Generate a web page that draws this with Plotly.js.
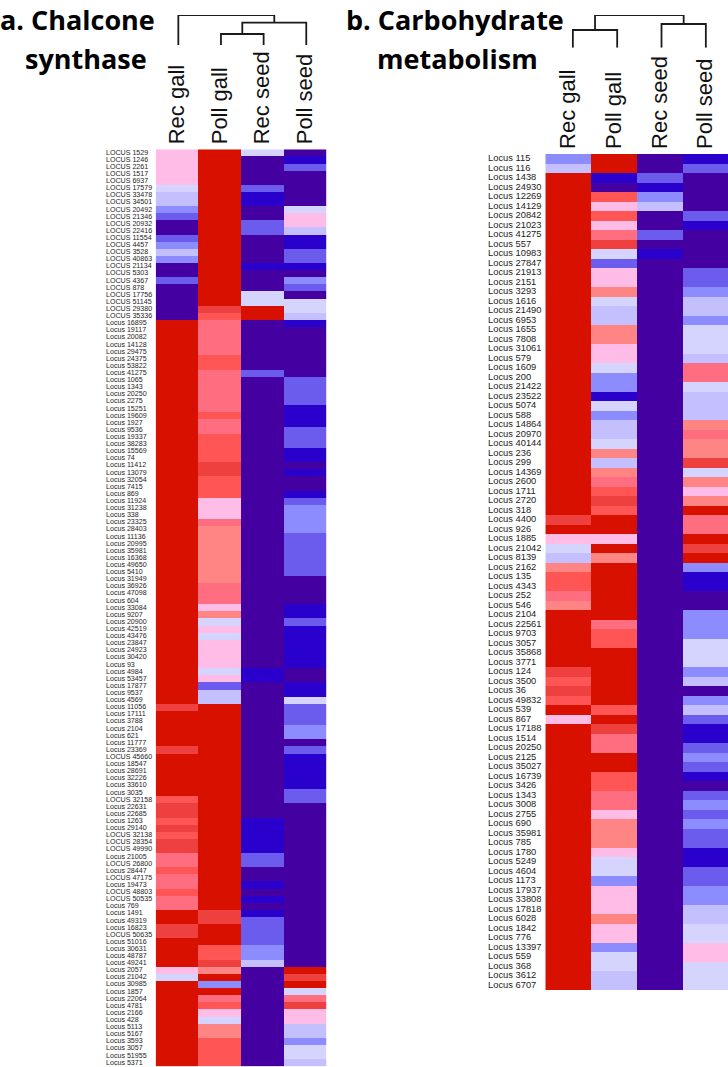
<!DOCTYPE html>
<html><head><meta charset="utf-8">
<script src="https://cdn.plot.ly/plotly-3.0.1.min.js"></script>
<style>html,body{margin:0;padding:0;background:#fff}</style></head>
<body><div id="chart" style="width:728px;height:1067px"></div>
<script>
const columns = ['Rec gall','Poll gall','Rec seed','Poll seed'];
const levelColors = ['#4400a0','#2a00cc','#6c5cee','#8c8cff','#c4bfff','#d4d4ff','#ffbce6','#ff8585','#ff6e80','#ff5555','#ef4040','#d81000'];

const lociA = ['LOCUS 1529','LOCUS 1246','LOCUS 2261','LOCUS 1517','LOCUS 6937','LOCUS 17579','LOCUS 33478','LOCUS 34501','LOCUS 20492','LOCUS 21346','LOCUS 20932','LOCUS 22416','LOCUS 11554','LOCUS 4457','LOCUS 3528','LOCUS 40863','LOCUS 21134','LOCUS 5303','LOCUS 4367','LOCUS 878','LOCUS 17756','LOCUS 51145','LOCUS 29380','LOCUS 35336',
'Locus 16895','Locus 19117','Locus 20082','Locus 14128','Locus 29475','Locus 24375','Locus 53822','Locus 41275','Locus 1065','Locus 1343','Locus 20250','Locus 2275','Locus 15251','Locus 19609','Locus 1927','Locus 9536','Locus 19337','Locus 38283','Locus 15569','Locus 74','Locus 11412','Locus 13079','Locus 32054','Locus 7415','Locus 869','Locus 11924','Locus 31238','Locus 338','Locus 23325','Locus 28403','Locus 11136','Locus 20995','Locus 35981','Locus 16368','Locus 49650','Locus 5410','Locus 31949','Locus 36926','Locus 47098','Locus 604','Locus 33084','Locus 9207','Locus 20900',
'Locus 42519','Locus 43476','Locus 23847','Locus 24923','Locus 30420','Locus 93','Locus 4984','Locus 53457','Locus 17877','Locus 9537','Locus 4569','Locus 11056','Locus 17111','Locus 3788','Locus 2104','Locus 621','Locus 11777','Locus 23369','LOCUS 45660','Locus 18547','Locus 28691','Locus 32226','Locus 33610','Locus 3035','LOCUS 32158','Locus 22631','Locus 22685','Locus 1263','Locus 29140','LOCUS 32138','LOCUS 28354',
'LOCUS 49990','Locus 21005','LOCUS 26800','Locus 28447','LOCUS 47175','Locus 19473','LOCUS 48803','LOCUS 50535','Locus 769','Locus 1491','Locus 49319','Locus 16823','LOCUS 50635','Locus 51016','Locus 30631','Locus 48787','Locus 49241','Locus 2057','Locus 21042','Locus 30985','Locus 1857','Locus 22064','Locus 4781','Locus 2166','Locus 428','Locus 5113','Locus 5167','Locus 3593','Locus 3057','Locus 51955','Locus 5371'];

const recGallA = [
6,6,6,6,6,5,4,4,3,2,
0,0,2,3,4,3,0,0,2,0,
0,0,0,0,11,11,11,11,11,11,
11,11,11,11,11,11,11,11,11,11,
11,11,11,11,11,11,11,11,11,11,
11,11,11,11,11,11,11,11,11,11,
11,11,11,11,11,11,11,11,11,11,
11,11,11,11,11,11,11,11,10,11,
11,11,11,11,10,11,11,11,11,11,
11,9,10,10,9,10,9,10,10,8,
8,9,8,8,9,8,8,11,11,10,
10,11,11,11,11,6,5,11,11,11,
11,11,11,11,11,11,11,11,11];
const pollGallA = [
11,11,11,11,11,11,11,11,11,11,
11,11,11,11,11,11,11,11,11,11,
11,11,10,9,8,8,8,8,8,9,
9,8,8,8,8,8,8,9,8,8,
9,9,9,9,10,10,9,9,9,6,
6,6,8,7,7,7,7,7,7,7,
7,8,8,8,6,7,5,6,5,6,
6,6,6,5,6,2,4,4,11,11,
11,11,11,11,11,11,11,11,11,11,
11,11,11,11,11,11,11,11,11,11,
11,11,11,11,11,11,11,10,10,11,
11,11,9,9,10,7,11,3,11,8,
9,6,5,7,7,9,9,9,9];
const recSeedA = [
5,0,0,0,0,2,1,1,0,0,
2,2,0,0,0,0,1,0,0,0,
5,5,11,11,0,0,0,0,0,0,
0,2,0,0,0,0,0,0,0,0,
0,0,0,0,0,0,0,0,0,0,
0,0,0,0,0,0,0,0,0,0,
0,0,0,0,0,0,0,0,0,0,
0,0,0,1,1,0,0,0,0,0,
0,0,0,0,0,0,0,0,0,0,
0,0,0,0,1,1,1,1,1,2,
2,0,0,1,0,1,0,1,2,2,
2,2,3,3,4,0,0,0,0,0,
0,0,0,0,0,0,0,0,0];
const pollSeedA = [
0,1,2,0,0,0,0,0,5,6,
6,4,1,1,2,2,1,0,3,2,
0,5,5,4,1,0,0,0,0,0,
0,0,2,2,2,2,1,1,1,2,
2,2,1,1,0,1,0,0,1,2,
3,3,3,3,2,2,2,2,2,2,
0,0,0,0,1,1,2,1,1,1,
1,1,1,0,0,1,1,5,2,2,
2,3,3,0,2,1,1,1,1,1,
2,2,0,0,0,0,0,0,0,0,
0,0,0,0,0,0,0,0,0,0,
0,0,0,0,0,11,10,11,5,8,
10,6,6,4,4,3,5,5,4];

const lociB = ['Locus 115','Locus 116','Locus 1438','Locus 24930','Locus 12269','Locus 14129','Locus 20842','Locus 21023','Locus 41275','Locus 557','Locus 10983','Locus 27847','Locus 21913','Locus 2151','Locus 3293','Locus 1616','Locus 21490','Locus 6953','Locus 1655','Locus 7808','Locus 31061','Locus 579','Locus 1609','Locus 200','Locus 21422','Locus 23522','Locus 5074','Locus 588','Locus 14864','Locus 20970','Locus 40144','Locus 236','Locus 299','Locus 14369','Locus 2600','Locus 1711','Locus 2720','Locus 318','Locus 4400','Locus 926','Locus 1885','Locus 21042','Locus 8139','Locus 2162','Locus 135','Locus 4343','Locus 252','Locus 546','Locus 2104','Locus 22561','Locus 9703','Locus 3057','Locus 35868','Locus 3771','Locus 124','Locus 3500','Locus 36','Locus 49832','Locus 539','Locus 867','Locus 17188','Locus 1514','Locus 20250','Locus 2125','Locus 35027','Locus 16739','Locus 3426','Locus 1343','Locus 3008','Locus 2755','Locus 690','Locus 35981','Locus 785','Locus 1780','Locus 5249','Locus 4604','Locus 1173','Locus 17937','Locus 33808','Locus 17818','Locus 6028','Locus 1842','Locus 776','Locus 13397','Locus 559','Locus 368','Locus 3612','Locus 6707'];

const recGallB = [
3,4,11,11,11,11,11,11,11,11,
11,11,11,11,11,11,11,11,11,11,
11,11,11,11,11,11,11,11,11,11,
11,11,11,11,11,11,11,11,10,11,
6,5,4,7,9,9,8,7,11,11,
11,11,11,11,10,9,10,9,11,6,
11,11,11,11,11,11,11,11,11,11,
11,11,11,11,11,11,11,11,11,11,
11,11,11,11,11,11,11,11];
const pollGallB = [
11,11,1,0,9,6,9,6,8,10,
5,2,6,6,7,5,4,4,7,7,
6,6,5,3,3,1,5,3,4,4,
5,7,4,7,8,9,10,9,11,11,
6,11,7,11,11,11,11,11,11,8,
9,9,11,11,11,11,11,11,9,11,
10,8,8,11,11,9,9,8,8,6,
7,7,7,6,5,5,3,6,6,6,
7,6,6,3,5,5,4,4];
const recSeedB = [
0,0,2,1,3,4,0,0,2,0,
1,0,0,0,0,0,0,0,0,0,
0,0,0,0,0,0,0,0,0,0,
0,0,0,0,0,0,0,0,0,0,
0,0,0,0,0,0,0,0,0,0,
0,0,0,0,0,0,0,0,0,0,
0,0,0,0,0,0,0,0,0,0,
0,0,0,0,0,0,0,0,0,0,
0,0,0,0,0,0,0,0];
const pollSeedB = [
1,2,0,0,0,0,2,1,0,0,
0,0,2,2,3,4,4,3,5,5,
5,4,8,8,5,4,4,4,7,8,
7,7,10,5,7,6,7,11,8,8,
11,10,11,3,1,1,0,0,3,3,
3,5,5,5,3,4,0,3,4,2,
1,1,2,3,2,1,0,2,3,2,
3,2,2,1,1,2,2,3,3,4,
4,5,5,6,6,5,5,5];

// dendrogram merges: [left position, right position, merge height, left child height, right child height]
const mergesA = [[1,2,11,0,0],[1.5,3,22.3,11,0],[0,2.25,30,0,22.3]];
const mergesB = [[0,1,17.7,0,0],[2,3,23.7,0,0],[0.5,2.5,32.7,17.7,23.7]];

const W = 728, H = 1067;
const fx = p => p / W, fy = p => 1 - p / H;
const cols = [0,1,2,3];
const colorscale = [];
levelColors.forEach((c,i)=>{ colorscale.push([i/12,c]); colorscale.push([(i+1)/12,c]); });
const fontTxt = 'Liberation Sans, Arial, sans-serif';

function panelTraces(loci, series, xa, ya, lx, ly, labelSize){
  const rows = loci.map((_,r)=>series.map(s=>s[r]));
  return [
    {type:'heatmap', x:cols, y:loci.map((_,i)=>i), z:rows, xaxis:xa, yaxis:ya, zmin:-0.5, zmax:11.5,
     colorscale, showscale:false, hoverinfo:'skip'},
    {type:'scatter', mode:'text', x:loci.map(()=>0), y:loci.map((_,i)=>i), text:loci, xaxis:lx, yaxis:ly,
     textposition:'middle right', cliponaxis:false, hoverinfo:'skip', showlegend:false,
     textfont:{family:fontTxt,size:labelSize,color:'#1c1c1c'}}
  ];
}
function dendroTrace(merges, xa, ya){
  const x=[],y=[];
  merges.forEach(m=>{ x.push(m[0],m[0],m[1],m[1],null); y.push(m[3],m[2],m[2],m[4],null); });
  return {type:'scatter', mode:'lines', x, y, xaxis:xa, yaxis:ya, showlegend:false, hoverinfo:'skip',
          line:{color:'#1a1a1a',width:1.8,shape:'linear'}, cliponaxis:false};
}
function heatX(x0,x1,anchor){
  return {domain:[fx(x0),fx(x1)], range:[-0.5,3.5], anchor, side:'top', tickmode:'array', tickvals:cols, ticktext:columns,
    tickangle:-90, ticks:'', ticklabelstandoff:4, showgrid:false, zeroline:false, showline:false,
    tickfont:{family:fontTxt,size:22,color:'#111'}, fixedrange:true};
}
function heatY(y0,y1,n,anchor){
  return {domain:[fy(y1),fy(y0)], range:[n-0.5,-0.5], anchor, showticklabels:false, ticks:'', showgrid:false, zeroline:false, showline:false, fixedrange:true};
}
function plainX(x0,x1,lo,hi,anchor){
  return {domain:[fx(x0),fx(x1)], range:[lo,hi], anchor, visible:false, fixedrange:true};
}
function plainY(y0,y1,lo,hi,anchor){
  return {domain:[fy(y1),fy(y0)], range:[lo,hi], anchor, visible:false, fixedrange:true};
}

const aLeft=155.7, aRight=326.3, bLeft=545.3, bRight=728;
const data = [
  ...panelTraces(lociA,[recGallA,pollGallA,recSeedA,pollSeedA],'x','y','x5','y5',7.1),
  ...panelTraces(lociB,[recGallB,pollGallB,recSeedB,pollSeedB],'x2','y2','x6','y6',9.35),
  dendroTrace(mergesA,'x3','y3'),
  dendroTrace(mergesB,'x4','y4')
];
const titleFont={family:'Open Sans, sans-serif',size:27,color:'#000',weight:700};
function ttl(text,x,y){
  return {text:'<b>'+text+'</b>', x:fx(x), y:fy(y), xref:'paper', yref:'paper', xanchor:'left', yanchor:'middle', showarrow:false, font:titleFont};
}
const layout = {
  width:W, height:H, margin:{l:0,r:0,t:0,b:0}, paper_bgcolor:'#fff', plot_bgcolor:'#fff', showlegend:false,
  xaxis:heatX(aLeft,aRight,'y'), yaxis:heatY(149.3,1066.5,lociA.length,'x'),
  xaxis2:heatX(bLeft,bRight,'y2'), yaxis2:heatY(154,990,lociB.length,'x2'),
  xaxis3:plainX(aLeft+1.3,aRight+1.3,-0.5,3.5,'y3'), yaxis3:plainY(15,45,0,30,'x3'),
  xaxis4:plainX(bLeft+5.4,bRight+5.4,-0.5,3.5,'y4'), yaxis4:plainY(15,47.7,0,32.7,'x4'),
  xaxis5:plainX(106,aLeft,0,1,'y5'), yaxis5:plainY(149.3,1066.5,lociA.length-0.5,-0.5,'x5'),
  xaxis6:plainX(488,bLeft,0,1,'y6'), yaxis6:plainY(154,990,lociB.length-0.5,-0.5,'x6'),
  annotations:[
    ttl('a. Chalcone',-2,20),
    ttl('synthase',23,58),
    ttl('b. Carbohydrate',344,20),
    ttl('metabolism',375,58)
  ]
};
Plotly.newPlot('chart',data,layout,{displayModeBar:false,responsive:false,staticPlot:true});
</script></body></html>
